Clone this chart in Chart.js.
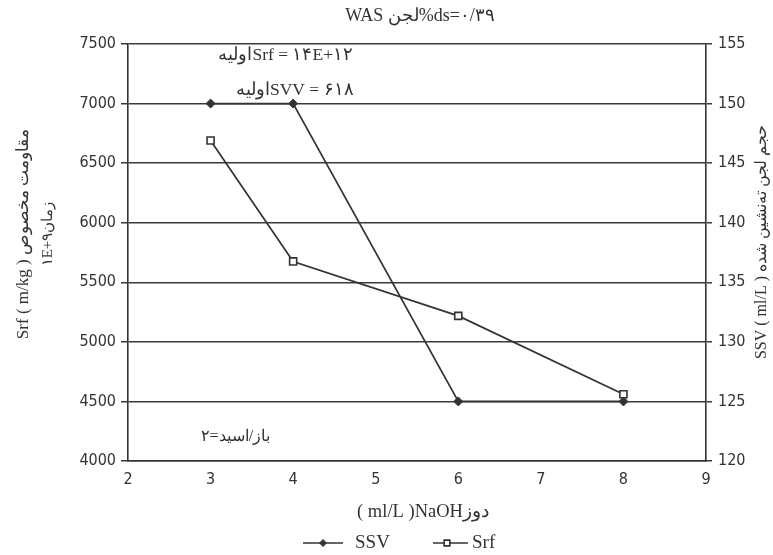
<!DOCTYPE html>
<html>
<head>
<meta charset="utf-8">
<script src="https://cdn.jsdelivr.net/npm/chart.js@4.4.1/dist/chart.umd.min.js"></script>
<style>
  html, body { margin: 0; padding: 0; background: #ffffff; }
  #wrap { width: 773px; height: 555px; }
</style>
</head>
<body>
<div id="wrap"><canvas id="doseChart" width="773" height="555"></canvas></div>
<script>
// data
const doses = [3, 4, 6, 8];
const ssvValues = [150, 150, 125, 125];
const srfValues = [6690, 5675, 5218, 4560];
const xTicks = [2, 3, 4, 5, 6, 7, 8, 9];
const srfTicks = [4000, 4500, 5000, 5500, 6000, 6500, 7000, 7500];
const ssvTicks = [120, 125, 130, 135, 140, 145, 150, 155];

const chartTitle = 'WAS لجن%ds=۰/۳۹';
const srfNote = 'اولیهSrf = ۱۴E+۱۲';
const ssvNote = 'اولیهSVV = ۶۱۸';
const ratioNote = '۲=باز/اسید';
const leftTitle = ['Srf ( m/kg ) مقاومت مخصوص', '۱E+۹زمان'];
const rightTitle = 'SSV ( ml/L ) حجم لجن ته‌نشین شده';
const xTitle = '( ml/L )NaOHدوز';

const ink = '#333333';
const tickFont = { family: "'DejaVu Sans Condensed', 'DejaVu Sans', sans-serif", size: 16 };
const serif = "'Liberation Serif', 'DejaVu Serif', serif";

const textPlugin = {
  id: 'figureText',
  afterDraw(chart) {
    const ctx = chart.ctx;
    const x = chart.scales.x, y = chart.scales.y;
    ctx.save();
    ctx.fillStyle = ink;
    ctx.direction = 'ltr';
    ctx.textBaseline = 'middle';
    ctx.textAlign = 'center';

    ctx.font = '18px ' + serif;
    ctx.fillText(chartTitle, 420, 16);

    ctx.font = '17.5px ' + serif;
    ctx.fillText(srfNote, x.getPixelForValue(3.91), y.getPixelForValue(7408));
    ctx.fillText(ssvNote, x.getPixelForValue(4.02), y.getPixelForValue(7114));
    ctx.font = '16px ' + serif;
    ctx.fillText(ratioNote, x.getPixelForValue(3.3), y.getPixelForValue(4200));

    // x title
    ctx.font = '18.5px ' + serif;
    ctx.fillText(xTitle, 423, 512);

    // left title, two lines rotated
    ctx.save();
    ctx.translate(24, 234);
    ctx.rotate(-Math.PI / 2);
    ctx.font = '17px ' + serif;
    ctx.fillText(leftTitle[0], 0, 0);
    ctx.font = '15px ' + serif;
    ctx.fillText(leftTitle[1], 0, 24);
    ctx.restore();

    // right title
    ctx.save();
    ctx.translate(762, 242);
    ctx.rotate(-Math.PI / 2);
    ctx.font = '16px ' + serif;
    ctx.fillText(rightTitle, 0, 0);
    ctx.restore();

    // legend: short line with marker, then label
    const spots = [{ x0: 303, x1: 343, mx: 323, tx: 355 }, { x0: 433, x1: 468, mx: 447, tx: 472 }];
    chart.data.datasets.forEach((ds, i) => {
      const s = spots[i];
      const ly = 543;
      ctx.strokeStyle = ds.borderColor;
      ctx.lineWidth = 1.6;
      ctx.beginPath();
      ctx.moveTo(s.x0, ly);
      ctx.lineTo(s.x1, ly);
      ctx.stroke();
      ctx.fillStyle = ds.pointBackgroundColor;
      ctx.strokeStyle = ds.pointBorderColor;
      ctx.lineWidth = ds.pointBorderWidth;
      Chart.helpers.drawPoint(ctx, {
        pointStyle: ds.pointStyle, radius: ds.pointRadius - 1, rotation: 0, borderWidth: ds.pointBorderWidth
      }, s.mx, ly);
      ctx.fillStyle = ink;
      ctx.textAlign = 'left';
      ctx.font = '19px ' + serif;
      ctx.fillText(ds.label, s.tx, ly);
      ctx.textAlign = 'center';
    });
    ctx.restore();
  }
};

const plain = v => String(v);

new Chart(document.getElementById('doseChart'), {
  type: 'line',
  data: {
    datasets: [{
      label: 'SSV',
      yAxisID: 'y2',
      data: doses.map((d, i) => ({ x: d, y: ssvValues[i] })),
      borderColor: ink,
      borderWidth: 1.7,
      pointStyle: 'rectRot',
      pointRadius: 4.5,
      pointBackgroundColor: ink,
      pointBorderColor: ink,
      pointBorderWidth: 1,
      tension: 0
    }, {
      label: 'Srf',
      yAxisID: 'y',
      data: doses.map((d, i) => ({ x: d, y: srfValues[i] })),
      borderColor: ink,
      borderWidth: 1.7,
      pointStyle: 'rect',
      pointRadius: 5,
      pointBackgroundColor: '#ffffff',
      pointBorderColor: ink,
      pointBorderWidth: 1.6,
      tension: 0
    }]
  },
  options: {
    responsive: false,
    animation: false,
    layout: { padding: { top: 44, left: 0, right: 0, bottom: 0 } },
    plugins: {
      legend: { display: false },
      title: { display: false },
      tooltip: { enabled: false }
    },
    scales: {
      x: {
        type: 'linear',
        min: 2, max: 9,
        afterBuildTicks: s => { s.ticks = xTicks.map(v => ({ value: v })); },
        afterFit: s => { s.height = 94; },
        ticks: { color: ink, font: tickFont, padding: 1, callback: plain },
        grid: { display: false },
        border: { display: true, color: ink, width: 1.6 }
      },
      y: {
        position: 'left',
        min: 4000, max: 7500,
        afterBuildTicks: s => { s.ticks = srfTicks.map(v => ({ value: v })); },
        afterFit: s => { s.width = 128; },
        ticks: { color: ink, font: tickFont, padding: 5, callback: plain },
        grid: { color: '#3a3a3a', lineWidth: 1.5, tickLength: 7 },
        border: { display: true, color: ink, width: 1.6 }
      },
      y2: {
        position: 'right',
        min: 120, max: 155,
        afterBuildTicks: s => { s.ticks = ssvTicks.map(v => ({ value: v })); },
        afterFit: s => { s.width = 67; },
        ticks: { color: ink, font: tickFont, padding: 6, callback: plain },
        grid: { drawOnChartArea: false, color: '#3a3a3a', lineWidth: 1.5, tickLength: 6 },
        border: { display: true, color: ink, width: 1.6 }
      }
    }
  },
  plugins: [textPlugin]
});
</script>
</body>
</html>
